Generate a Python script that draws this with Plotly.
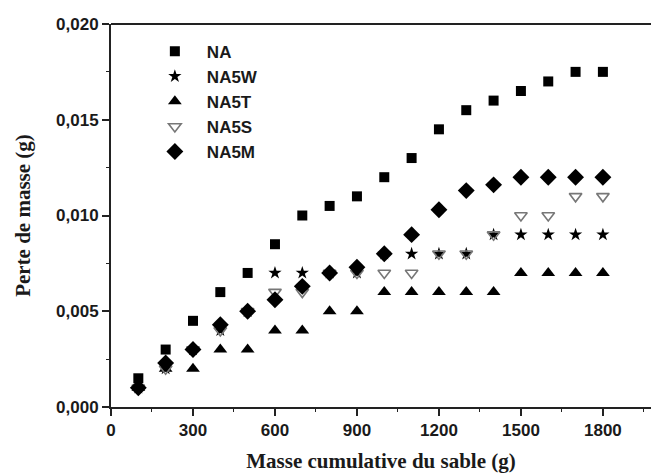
import plotly.graph_objects as go

masse = [100, 200, 300, 400, 500, 600, 700, 800, 900, 1000, 1100, 1200, 1300, 1400, 1500, 1600, 1700, 1800]

na   = [0.0015, 0.003, 0.0045, 0.006, 0.007, 0.0085, 0.010, 0.0105, 0.011, 0.012, 0.013, 0.0145, 0.0155, 0.016, 0.0165, 0.017, 0.0175, 0.0175]
na5w = [0.001, 0.002, 0.003, 0.004, 0.005, 0.007, 0.007, 0.007, 0.007, 0.008, 0.008, 0.008, 0.008, 0.009, 0.009, 0.009, 0.009, 0.009]
na5t = [0.001, 0.002, 0.002, 0.003, 0.003, 0.004, 0.004, 0.005, 0.005, 0.006, 0.006, 0.006, 0.006, 0.006, 0.007, 0.007, 0.007, 0.007]
na5s = [0.001, 0.002, 0.003, 0.004, 0.005, 0.006, 0.006, 0.007, 0.007, 0.007, 0.007, 0.008, 0.008, 0.009, 0.010, 0.010, 0.011, 0.011]
na5m = [0.001, 0.0023, 0.003, 0.0043, 0.005, 0.0056, 0.0063, 0.007, 0.0073, 0.008, 0.009, 0.0103, 0.0113, 0.0116, 0.012, 0.012, 0.012, 0.012]

x_ticks = [0, 300, 600, 900, 1200, 1500, 1800]
y_ticks = [0.0, 0.005, 0.010, 0.015, 0.020]
y_tick_text = ["0,000", "0,005", "0,010", "0,015", "0,020"]

series = [
    ("NA", na, dict(symbol="square", size=10, color="black")),
    ("NA5W", na5w, dict(symbol="star", size=10, color="black")),
    ("NA5T", na5t, dict(symbol="triangle-up", size=12, color="black")),
    ("NA5S", na5s, dict(symbol="triangle-down-open", size=11, color="#777777", line=dict(width=1.6, color="#777777"))),
    ("NA5M", na5m, dict(symbol="diamond", size=13, color="black")),
]

fig = go.Figure()
for name, vals, mk in series:
    fig.add_trace(go.Scatter(x=masse, y=vals, mode="markers", name=name, marker=mk))

tickfont = dict(family="Liberation Sans, Arial", size=17, color="#1a1a1a", weight="bold")
titlefont = dict(family="Liberation Serif, Times New Roman", size=21, color="#1a1a1a")

fig.update_layout(
    width=651, height=475,
    margin=dict(l=111, r=0, t=24, b=68),
    paper_bgcolor="white", plot_bgcolor="white",
    font=dict(family="Liberation Sans, Arial", size=12, color="black"),
    showlegend=True,
    legend=dict(x=0.059, y=0.975, xanchor="left", yanchor="top",
                bgcolor="rgba(0,0,0,0)", tracegroupgap=0,
                font=dict(family="Liberation Sans, Arial", size=17, color="#1a1a1a", weight="bold"),
                itemwidth=54),
)

fig.update_xaxes(
    range=[0, 1976], showgrid=False, zeroline=False,
    showline=True, linecolor="#222", linewidth=2,
    tickmode="array", tickvals=x_ticks, ticks="outside", ticklen=7, tickwidth=1.5, tickcolor="#222",
    tickfont=tickfont,
    minor=dict(ticks="outside", ticklen=3, tick0=150, dtick=300, tickcolor="#222", tickwidth=1.2),
    title=dict(text="<b>Masse cumulative du sable (g)</b>", standoff=14, font=titlefont),
)
fig.update_yaxes(
    range=[0, 0.020], showgrid=False, zeroline=False,
    showline=True, linecolor="#222", linewidth=2,
    tickmode="array", tickvals=y_ticks, ticktext=y_tick_text,
    ticks="outside", ticklen=7, tickwidth=1.5, tickcolor="#222",
    tickfont=tickfont,
    minor=dict(ticks="outside", ticklen=3, tick0=0.0025, dtick=0.005, tickcolor="#222", tickwidth=1.2),
    title=dict(text="<b>Perte de masse (g)</b>", standoff=20, font=titlefont),
)

fig.add_shape(type="line", xref="paper", yref="paper", x0=0, x1=1, y0=1, y1=1,
              line=dict(color="#222", width=2))

fig.write_html("out.html")
